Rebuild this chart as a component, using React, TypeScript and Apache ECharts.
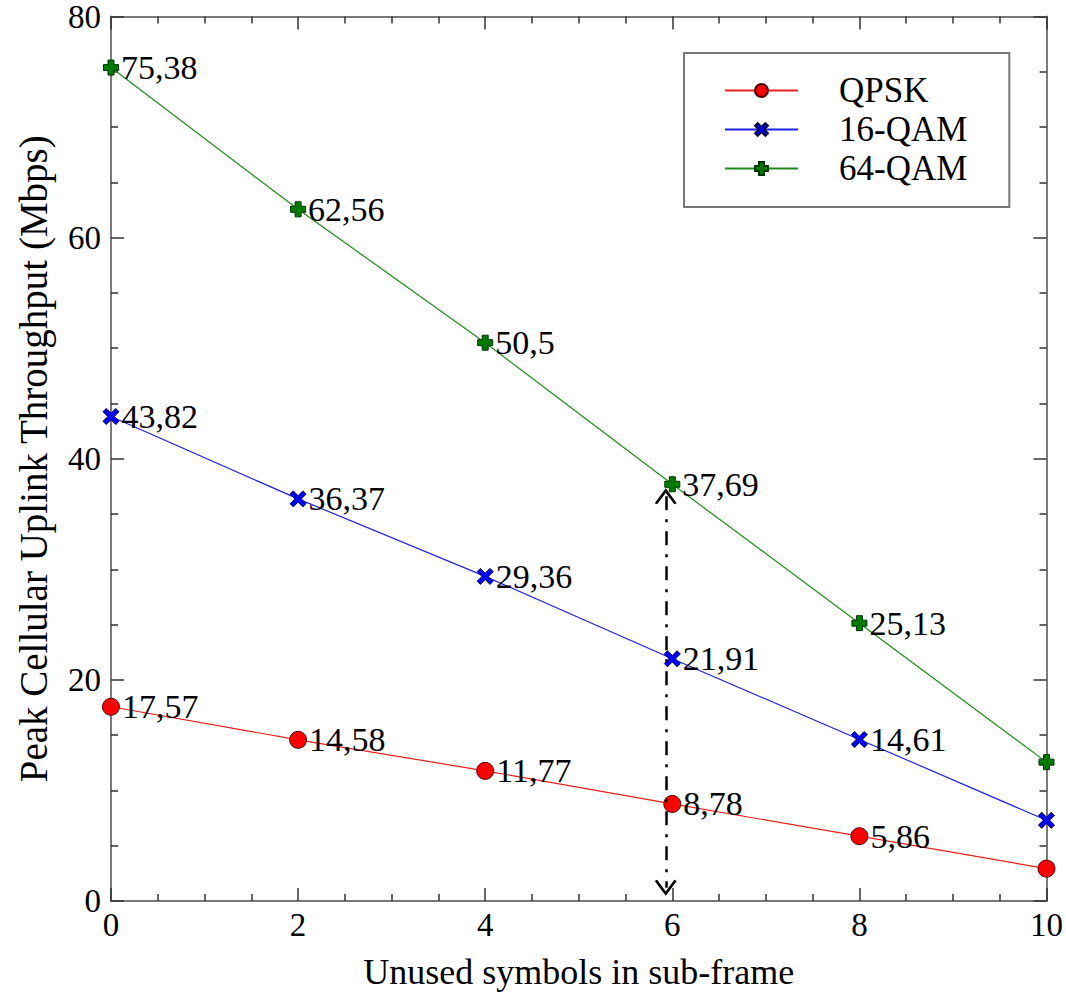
import React, { useEffect, useRef } from "react";
import * as echarts from "echarts";

const xValues = [0, 2, 4, 6, 8, 10];
const qpsk = [17.57, 14.58, 11.77, 8.78, 5.86, 2.93];
const qam16 = [43.82, 36.37, 29.36, 21.91, 14.61, 7.3];
const qam64 = [75.38, 62.56, 50.5, 37.69, 25.13, 12.56];
const seriesNames = ["QPSK", "16-QAM", "64-QAM"];
const arrowX = 5.93;
const arrowTop = 36.6;
const arrowBottom = 1.2;

const FONT = "Liberation Serif";

const plusPath = "path://M3,0 H7 V3 H10 V7 H7 V10 H3 V7 H0 V3 H3 Z";
const xPath = "path://M0,2 L2,0 L5,3 L8,0 L10,2 L7,5 L10,8 L8,10 L5,7 L2,10 L0,8 L3,5 Z";
const chevronPath = "path://M0,8.6 L5,0 L10,8.6 L8.9,9.3 L5,2.5 L1.1,9.3 Z";

function pairs(ys: number[]) {
  return xValues.map((x, i) => [x, ys[i]]);
}

const labelFmt = (p: any) => {
  if (p.value[0] === 10) return "";
  return String(p.value[1]).replace(".", ",");
};

export default function App() {
  const ref = useRef<HTMLDivElement>(null);
  useEffect(() => {
    const chart = echarts.init(ref.current!, undefined, { renderer: "svg" });
    const axisColor = "#7a7a7a";
    const label = {
      show: true,
      position: "right",
      distance: 2,
      formatter: labelFmt,
      fontFamily: FONT,
      fontSize: 34,
      color: "#000",
    };
    const tick = { show: true, inside: true, length: 13, lineStyle: { color: "#333", width: 1.5 } };
    const minor = { show: true, splitNumber: 4, length: 7, lineStyle: { color: "#333", width: 1.5 } };
    const baseX = {
      type: "value",
      min: 0,
      max: 10,
      interval: 2,
      axisLine: { show: true, onZero: false, lineStyle: { color: axisColor, width: 2 } },
      axisTick: tick,
      minorTick: minor,
      splitLine: { show: false },
    };
    const baseY = {
      type: "value",
      min: 0,
      max: 80,
      interval: 20,
      axisLine: { show: true, onZero: false, lineStyle: { color: axisColor, width: 2 } },
      axisTick: tick,
      minorTick: minor,
      splitLine: { show: false },
    };
    chart.setOption({
      animation: false,
      backgroundColor: "#fff",
      grid: { left: 111, right: 19, top: 16, bottom: 91, containLabel: false },
      legend: {
        left: 684,
        top: 53,
        orient: "vertical",
        data: seriesNames,
        itemWidth: 73,
        itemHeight: 16,
        itemGap: 4,
        padding: [20, 42, 21, 40],
        borderColor: "#777",
        borderWidth: 2,
        backgroundColor: "#fff",
        textStyle: { fontFamily: FONT, fontSize: 35, color: "#000", padding: [0, 0, 0, 36] },
      },
      xAxis: [
        {
          ...baseX,
          position: "bottom",
          name: "Unused symbols in sub-frame",
          nameLocation: "middle",
          nameGap: 53,
          nameTextStyle: { fontFamily: FONT, fontSize: 36, color: "#000" },
          axisLabel: { show: true, fontFamily: FONT, fontSize: 33, color: "#000", margin: 7 },
        },
        { ...baseX, position: "top", axisLabel: { show: false } },
      ],
      yAxis: [
        {
          ...baseY,
          position: "left",
          name: "Peak Cellular Uplink Throughput (Mbps)",
          nameLocation: "middle",
          nameGap: 58,
          nameTextStyle: { fontFamily: FONT, fontSize: 39, color: "#000" },
          axisLabel: { show: true, fontFamily: FONT, fontSize: 33, color: "#000", margin: 10 },
        },
        { ...baseY, position: "right", axisLabel: { show: false } },
      ],
      series: [
        {
          name: seriesNames[0],
          type: "line",
          data: pairs(qpsk),
          symbol: "circle",
          symbolSize: 17,
          lineStyle: { color: "#e8201c", width: 1.2 },
          itemStyle: { color: "#ff0000", borderColor: "#550000", borderWidth: 1 },
          label,
          z: 3,
        },
        {
          name: seriesNames[1],
          type: "line",
          data: pairs(qam16),
          symbol: xPath,
          symbolSize: 16,
          lineStyle: { color: "#2020e0", width: 1.2 },
          itemStyle: { color: "#0000ff", borderColor: "#000044", borderWidth: 1 },
          label,
          z: 3,
        },
        {
          name: seriesNames[2],
          type: "line",
          data: pairs(qam64),
          symbol: plusPath,
          symbolSize: 15,
          lineStyle: { color: "#1e8a1e", width: 1.2 },
          itemStyle: { color: "#007a00", borderColor: "#003300", borderWidth: 1 },
          label,
          z: 3,
          markLine: {
            silent: true,
            symbol: [chevronPath, chevronPath],
            symbolSize: [22, 16],
            label: { show: false },
            lineStyle: { color: "#000", width: 2.5, type: [14, 9, 3, 9] },
            data: [[{ coord: [arrowX, arrowTop] }, { coord: [arrowX, arrowBottom] }]],
          },
        },
      ],
    });
    return () => chart.dispose();
  }, []);
  return (
    <div
      ref={ref}
      style={{ position: "fixed", left: 0, top: 0, width: 1066, height: 995, background: "#fff" }}
    />
  );
}
